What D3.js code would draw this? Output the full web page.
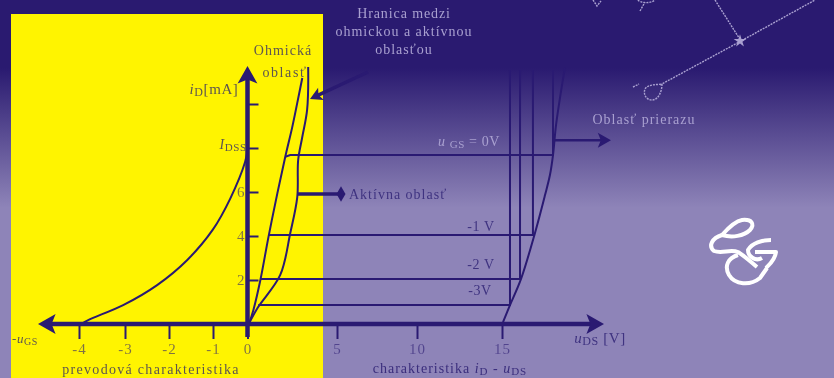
<!DOCTYPE html>
<html>
<head>
<meta charset="utf-8">
<script src="https://cdn.jsdelivr.net/npm/d3@7"></script>
<style>
html, body { margin: 0; padding: 0; background: #2a1a70; overflow: hidden; }
#chart { display: block; filter: blur(0.7px); font-family: "Liberation Serif", serif; }
</style>
</head>
<body>
<svg id="chart"></svg>
<script>
let width = 834, height = 378;
const dark = "#2a1a72";

// x axis is not linear in the picture, negative side and positive side differ
const xKnots = [-4.9, -4, -3, -2, -1, 0, 5, 10, 15, 21];
const xKnotPixels = [38, 79, 125, 169, 213, 247.5, 337, 417, 502, 604];
const xTicks = [-4, -3, -2, -1, 0, 5, 10, 15];
const yTicks = [2, 4, 6, 8, 10];
const yTickLabels = ["2", "4", "6", "", ""];

// transfer characteristic [uGS, iD]
const transferCurve = [[-3.95, 0], [-3.8, 0.18], [-3.04, 0.86], [-2.27, 1.77], [-1.59, 2.9], [-1.0, 4.3], [-0.5, 5.7], [-0.07, 7.36], [0, 7.9]];

// output characteristics [uDS, iD]
const ohmicCurve = [[0.1, 0.05], [0.33, 0.64], [0.72, 2], [1.17, 3.95], [1.67, 5.95], [2.11, 7.6], [2.5, 8.95], [2.78, 10.05], [3.06, 11.18]];
const boundaryCurve = [[0.1, 0.05], [0.56, 0.73], [1.83, 2.23], [2.39, 4.14], [2.78, 5.77], [2.83, 7.45], [3.06, 8.5], [3.33, 9.73], [3.39, 11.68]];
const breakdownCurve = [[15.06, 0.09], [15.47, 0.86], [16.12, 2.05], [16.94, 4.14], [17.53, 5.86], [17.82, 6.77], [18, 7.68], [18.18, 9.05], [18.53, 10.86], [18.7, 11.64]];
const vgs0 = [[2.11, 7.6], [2.39, 7.68], [18, 7.68], [18, 11.55]];
const vgs1 = [[1.17, 4.05], [16.82, 4.05], [16.82, 11.55]];
const vgs2 = [[0.72, 2.05], [16.06, 2.05], [16.06, 11.55]];
const vgs3 = [[0.6, 0.86], [15.47, 0.86], [15.47, 11.55]];

const svg = d3.select("#chart").attr("width", width).attr("height", height);
const defs = svg.append("defs");

const grad = defs.append("linearGradient").attr("id", "bg").attr("x1", 0).attr("x2", 0).attr("y1", 0).attr("y2", 1);
grad.append("stop").attr("offset", 0.18).attr("stop-color", "#2a1a70");
grad.append("stop").attr("offset", 0.55).attr("stop-color", "#8e84b8");
grad.append("stop").attr("offset", 1).attr("stop-color", "#8e84b8");

svg.append("rect").attr("width", width).attr("height", height).attr("fill", "url(#bg)");
svg.append("rect").attr("x", 11).attr("y", 14).attr("width", 312).attr("height", 364).attr("fill", "#fff400");

const xScale = d3.scaleLinear().domain(xKnots).range(xKnotPixels);
const yScale = d3.scaleLinear().domain([0, 10]).range([324, 104]);

const line = d3.line().x(d => xScale(d[0])).y(d => yScale(d[1]));
const smooth = d3.line().x(d => xScale(d[0])).y(d => yScale(d[1])).curve(d3.curveCatmullRom);

// Curves
[transferCurve, ohmicCurve, boundaryCurve, breakdownCurve].forEach(c => {
    svg.append("path").datum(c)
        .attr("fill", "none").attr("stroke", dark).attr("stroke-width", 2)
        .attr("d", smooth);
});
[vgs0, vgs1, vgs2, vgs3].forEach(c => {
    svg.append("path").datum(c)
        .attr("fill", "none").attr("stroke", dark).attr("stroke-width", 2)
        .attr("d", line);
});

// Axes
const xAxis = svg.append("g")
    .attr("transform", "translate(0,324)")
    .call(d3.axisBottom(xScale).tickValues(xTicks).tickSize(15).tickFormat(d => String(d)));
const yAxis = svg.append("g")
    .attr("transform", "translate(" + xScale(0) + ",0)")
    .call(d3.axisRight(yScale).tickValues(yTicks).tickSize(11).tickFormat((d, i) => yTickLabels[i]));

xAxis.select(".domain").remove();
yAxis.select(".domain").remove();
xAxis.selectAll("line").attr("stroke", dark).attr("stroke-width", 2);
yAxis.selectAll("line").attr("stroke", dark).attr("stroke-width", 2);
xAxis.selectAll("text")
    .attr("y", 19)
    .attr("fill", dark).attr("opacity", 0.6)
    .style("font-family", "Liberation Serif").style("font-size", "15px").style("letter-spacing", "1px");
yAxis.selectAll("text")
    .attr("x", -3).attr("dy", "0.32em")
    .style("text-anchor", "end")
    .attr("fill", dark).attr("opacity", 0.6)
    .style("font-family", "Liberation Serif").style("font-size", "15px");

// thick lines with arrow heads
function arrow(x1, y1, x2, y2, w, size, color) {
    const a = Math.atan2(y2 - y1, x2 - x1), c = Math.cos(a), s = Math.sin(a);
    svg.append("line").attr("x1", x1).attr("y1", y1).attr("x2", x2 - c * size * 0.5).attr("y2", y2 - s * size * 0.5)
        .attr("stroke", color).attr("stroke-width", w);
    const pts = [[x2, y2],
        [x2 - c * size * 1.1 - s * size * 0.62, y2 - s * size * 1.1 + c * size * 0.62],
        [x2 - c * size * 0.85, y2 - s * size * 0.85],
        [x2 - c * size * 1.1 + s * size * 0.62, y2 - s * size * 1.1 - c * size * 0.62]];
    svg.append("polygon").attr("points", pts.join(" ")).attr("fill", color);
}
arrow(xScale(0), 324, xScale(21), 324, 4.5, 16, dark);
arrow(xScale(0), 324, xScale(-4.9), 324, 4.5, 16, dark);
arrow(xScale(0), 337, xScale(0), 66, 4.5, 16, dark);
arrow(xScale(18), yScale(8.35), 611, yScale(8.35), 2.5, 12, dark);
arrow(368, 72, 310, 99, 3.5, 11, dark);

// Active region pointer
svg.append("line").attr("x1", 297).attr("y1", 194).attr("x2", 342).attr("y2", 194).attr("stroke", dark).attr("stroke-width", 3.5);
svg.append("path").attr("transform", "translate(341,194)").attr("d", d3.symbol(d3.symbolDiamond, 70)).attr("fill", dark);

// Labels
function label(x, y, txt, size, color, spacing, anchor) {
    return svg.append("text")
        .attr("x", x).attr("y", y)
        .attr("fill", color)
        .attr("text-anchor", anchor || "middle")
        .style("font-size", size + "px")
        .style("letter-spacing", (spacing || 0) + "px")
        .text(txt);
}
function subLabel(x, y, parts, size, color, anchor, spacing) {
    // parts: [text, isSub, italic, afterSub]
    const t = svg.append("text").attr("x", x).attr("y", y).attr("fill", color)
        .attr("text-anchor", anchor || "middle")
        .style("font-size", size + "px").style("letter-spacing", (spacing || 0.6) + "px");
    parts.forEach(p => {
        t.append("tspan")
            .attr("dy", p[1] ? 2 : (p[3] ? -2 : 0))
            .style("font-size", (p[1] ? size - 3 : size) + "px")
            .style("font-style", p[2] ? "italic" : "normal")
            .text(p[0]);
    });
}
const onYellow = "#5d5550", onBlue = "#a9a0d0", onGrey = "#3f3380";

label(283, 55, "Ohmická", 14, onYellow, 1);
label(285, 77, "oblasť", 14, onYellow, 1.6);
label(404, 18, "Hranica medzi", 14, onBlue, 0.9);
label(404, 36, "ohmickou a aktívnou", 14, onBlue, 1);
label(404, 54, "oblasťou", 14, onBlue, 1);
label(644, 124, "Oblasť prierazu", 14, onBlue, 1);
label(349, 199, "Aktívna oblasť", 14, onGrey, 1, "start");
label(151, 374, "prevodová charakteristika", 14, onYellow, 1.3);

subLabel(214, 94, [["i", false, true], ["D", true], ["[mA]", false, false, true]], 15, onYellow);
subLabel(233, 149, [["I", false, true], ["DSS", true]], 14, onYellow);
subLabel(469, 146, [["u ", false, true], ["GS", true], [" = 0V", false, false, true]], 14, onBlue);
subLabel(481, 231, [["-1 V"]], 14, onGrey);
subLabel(481, 269, [["-2 V"]], 14, onGrey);
subLabel(480, 295, [["-3V"]], 14, onGrey);
subLabel(25, 343, [["-u", false, true], ["GS", true]], 13, onYellow);
subLabel(600, 343, [["u", false, true], ["DS", true], [" [V]", false, false, true]], 15, onGrey);
subLabel(450, 373, [["charakteristika ", false], ["i", false, true], ["D", true], [" - u", false, true, true], ["DS", true]], 14, "#3a2d7c", "middle", 1);

// Decoration, top right constellation
const deco = svg.append("g").attr("fill", "none").attr("stroke", "#a9a0d0").attr("stroke-width", 1.4).attr("stroke-dasharray", "2 1");
deco.append("path").attr("d", "M660,85 L741,41 L815,0");
deco.append("path").attr("d", "M715,0 L741,41");
deco.append("path").attr("d", "M662,84 C662,92 658,100 652,100 C646,100 643,94 645,89 C648,84 656,85 662,84");
deco.append("path").attr("d", "M633,87 L639,84");
deco.append("path").attr("d", "M593,0 L597,6 L601,1 M638,0 C640,3 650,4 655,0 M640,11 L645,2");
svg.append("path").attr("transform", "translate(740,41)").attr("d", d3.symbol(d3.symbolStar, 50)).attr("fill", "#a9a0d0");

// Logo
const logo = svg.append("g").attr("fill", "none").attr("stroke", "#fff").attr("stroke-width", 4).attr("stroke-linejoin", "round");
logo.append("path").attr("d", "M722,235 C730,226 736,221 742,220 C752,219 755,224 750,230 C744,236 732,238 722,235");
logo.append("path").attr("d", "M722,235 C712,238 708,246 714,251 C722,254 730,249 738,252 C746,257 752,263 757,267");
logo.append("path").attr("d", "M771,240 C762,240 752,243 748,250 C748,256 755,262 762,258 M755,252 L776,252 C775,260 770,264 766,268");
logo.append("path").attr("d", "M738,255 C728,258 724,266 729,275 C735,285 750,286 760,278 L767,268");
</script>
</body>
</html>
